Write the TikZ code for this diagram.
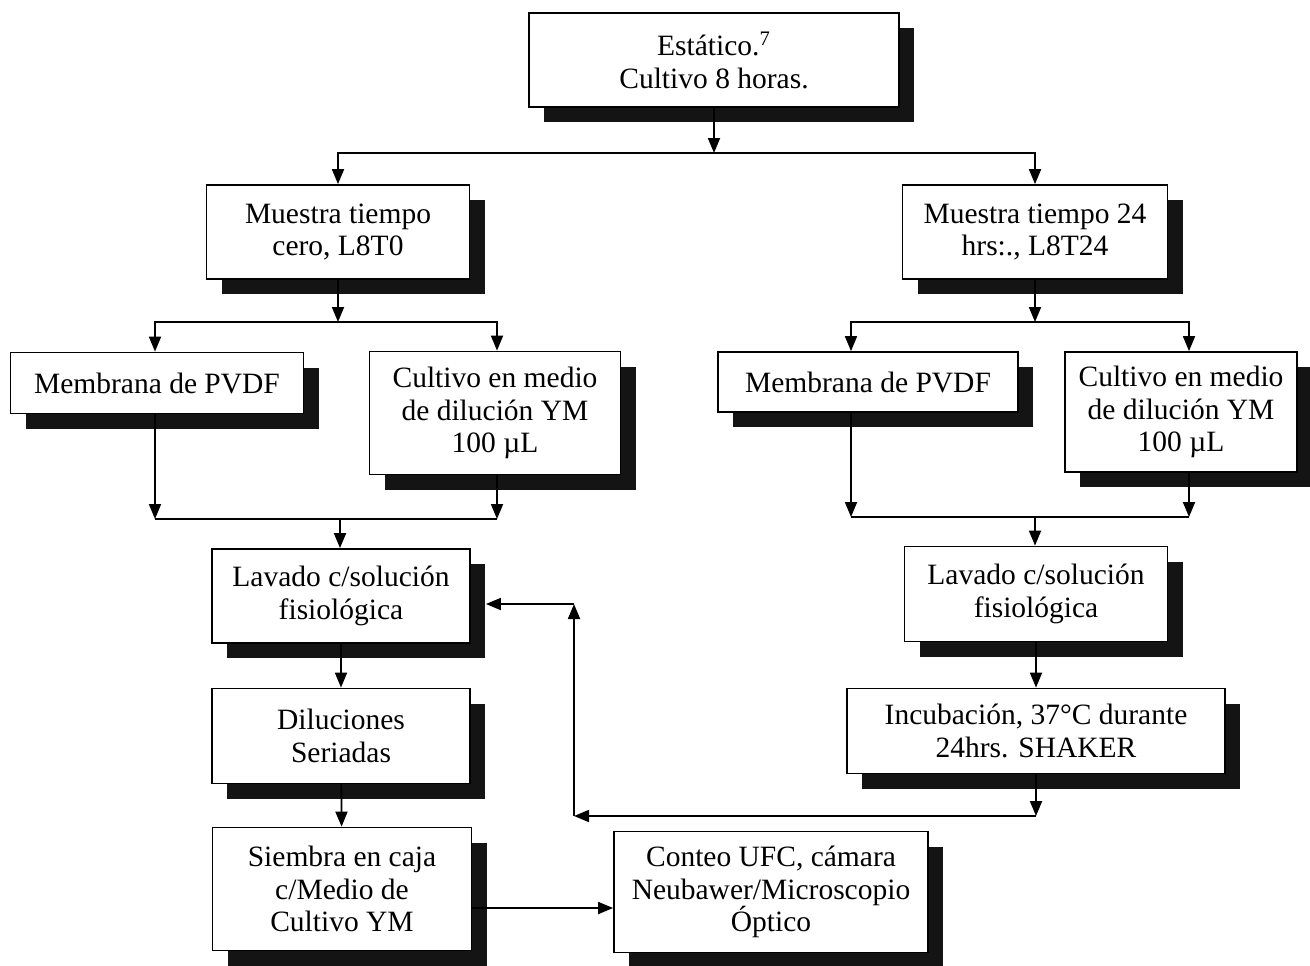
\documentclass[tikz,border=0pt]{standalone}
\usepackage{fontspec}
\setmainfont{Liberation Serif}
\usepackage[]{tikz}
\usetikzlibrary{positioning}
\usetikzlibrary{arrows.meta}
\usetikzlibrary{shadows}
\tikzset{caja/.style={draw,line width=0.9pt,fill=white,align=center,inner sep=0pt,
    font=\fontsize{14.75pt}{16.25pt}\selectfont,
    drop shadow={shadow xshift=7.5pt,shadow yshift=-7.5pt,fill=black,opacity=0.92}}}
\tikzset{flecha/.style={line width=0.9pt,-{Triangle[length=7.5pt,width=6pt]}}}
\begin{document}
\begin{tikzpicture}[x=0.5pt,y=-0.5pt]
            \fill[white] (0,0) rectangle (1310,965);
            \node[caja,minimum width=185pt,minimum height=47pt] (top) at (714,60) {Estático.\textsuperscript{7}\\Cultivo 8 horas.};
            \node[caja,minimum width=131.5pt,minimum height=47pt] (cero) at (338,232) {Muestra tiempo\\cero, L8T0};
            \node[caja,minimum width=132.5pt,minimum height=47pt] (veinte) at (1035,232) {Muestra tiempo 24\\hrs:., L8T24};
            \node[caja,minimum width=146.5pt,minimum height=30.5pt] (memA) at (157,383) {Membrana de PVDF};
            \node[caja,minimum width=125.5pt,minimum height=61.5pt] (culA) at (495,413) {Cultivo en medio\\de dilución YM\\100 µL};
            \node[caja,minimum width=150pt,minimum height=30pt] (memB) at (868,382) {Membrana de PVDF};
            \node[caja,minimum width=116pt,minimum height=60pt] (culB) at (1181,412) {Cultivo en medio\\de dilución YM\\100 µL};
            \node[caja,minimum width=129pt,minimum height=47pt] (lavA) at (341,596) {Lavado c/solución\\fisiológica};
            \node[caja,minimum width=131.5pt,minimum height=47.5pt] (lavB) at (1036,594) {Lavado c/solución\\fisiológica};
            \node[caja,minimum width=129pt,minimum height=47.5pt] (dil) at (341,736) {Diluciones\\Seriadas};
            \node[caja,minimum width=189pt,minimum height=42.5pt] (incu) at (1036,731) {Incubación, 37°C durante\\24hrs. SHAKER};
            \node[caja,minimum width=129.5pt,minimum height=61.5pt] (siem) at (342,889) {Siembra en caja\\c/Medio de\\Cultivo YM};
            \node[caja,minimum width=157pt,minimum height=60.5pt] (conteo) at (771,892) {Conteo UFC, cámara\\Neubawer/Microscopio\\Óptico};
            \coordinate (f1) at (714,153);
            \coordinate (f2) at (338,322);
            \coordinate (f3) at (1035,322);
            \coordinate (jA) at (340,519);
            \coordinate (jB) at (1035,517);
            \coordinate (r1) at (1036,816);
            \coordinate (r2) at (574,816);
            \coordinate (r3) at (574,604);
            \draw[flecha] (top) -- (f1);
            \draw[flecha] (f1) -| (cero.north);
            \draw[flecha] (f1) -| (veinte.north);
            \draw[flecha] (cero) -- (f2);
            \draw[flecha] (f2) -| ([xshift=-1pt]memA.north);
            \draw[flecha] (f2) -| ([xshift=1pt]culA.north);
            \draw[flecha] (veinte) -- (f3);
            \draw[flecha] (f3) -| ([xshift=-8.5pt]memB.north);
            \draw[flecha] (f3) -| ([xshift=4pt]culB.north);
            \draw[flecha] ([xshift=-1pt]memA.south) -- ([xshift=-1pt]memA.south |- jA);
            \draw[flecha] ([xshift=1pt]culA.south) -- ([xshift=1pt]culA.south |- jA);
            \draw[line width=0.9pt] ([xshift=-1pt]memA.south |- jA) -- ([xshift=1pt]culA.south |- jA);
            \draw[flecha] (jA) -- (lavA.north -| jA);
            \draw[flecha] ([xshift=-8.5pt]memB.south) -- ([xshift=-8.5pt]memB.south |- jB);
            \draw[flecha] ([xshift=4pt]culB.south) -- ([xshift=4pt]culB.south |- jB);
            \draw[line width=0.9pt] ([xshift=-8.5pt]memB.south |- jB) -- ([xshift=4pt]culB.south |- jB);
            \draw[flecha] (jB) -- (lavB.north -| jB);
            \draw[flecha] (lavA) -- (dil);
            \draw[flecha] (dil) -- (siem);
            \draw[flecha] (lavB) -- (incu);
            \draw[flecha] ([yshift=-9.5pt]siem.east) -- ([yshift=-9.5pt]siem.east -| conteo.west);
            \draw[flecha] (incu) -- (r1);
            \draw[flecha] (r1) -- (r2);
            \draw[flecha] (r2) -- (r3);
            \draw[flecha] (r3) -- ([xshift=7.5pt]lavA.east |- r3);
        \end{tikzpicture}
\end{document}
